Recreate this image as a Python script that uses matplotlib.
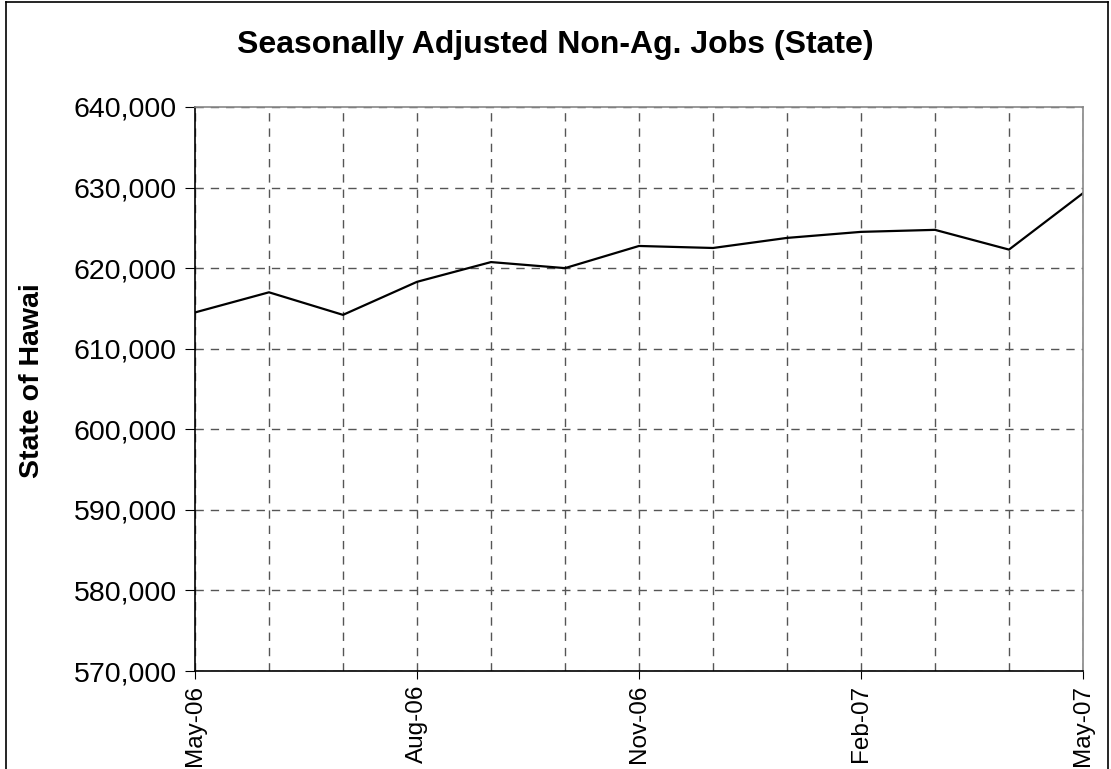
import matplotlib.pyplot as plt
from matplotlib.ticker import FuncFormatter, MultipleLocator
from matplotlib.lines import Line2D

plt.rcParams['font.family'] = ['Liberation Sans', 'DejaVu Sans']

# data
months = ['May-06', 'Jun-06', 'Jul-06', 'Aug-06', 'Sep-06', 'Oct-06', 'Nov-06',
          'Dec-06', 'Jan-07', 'Feb-07', 'Mar-07', 'Apr-07', 'May-07']
jobs = [614500, 617000, 614200, 618300, 620750, 620000, 622750,
        622500, 623750, 624500, 624750, 622300, 629300]

fig = plt.figure(figsize=(11.11, 7.69), dpi=100)
ax = fig.add_axes([0.1755, 0.1274, 0.7993, 0.7335])

x = list(range(len(months)))
ax.plot(x, jobs, color='black', lw=1.6)

ax.set_xlim(0, len(months) - 1)
ax.set_ylim(570000, 640000)
ax.yaxis.set_major_locator(MultipleLocator(10000))
ax.yaxis.set_major_formatter(FuncFormatter(lambda v, p: f"{int(v):,}"))

# labels every 3 months, grid every month
ax.set_xticks(x[::3])
ax.set_xticklabels(months[::3], rotation=90, fontsize=17.5)
ax.set_xticks(x, minor=True)
ax.tick_params(axis='x', which='minor', length=0)
ax.tick_params(axis='x', which='major', length=6, direction='out', pad=4)
ax.tick_params(axis='y', labelsize=20.5, length=7, pad=6)

ax.grid(True, which='both', axis='x', ls=(0, (6, 5)), color='#555555', lw=1)
ax.grid(True, which='major', axis='y', ls=(0, (6, 5)), color='#555555', lw=1)

for s in ['left', 'bottom']:
    ax.spines[s].set_color('black')
    ax.spines[s].set_linewidth(1.2)
for s in ['top', 'right']:
    ax.spines[s].set_color('#888888')
    ax.spines[s].set_linewidth(1.2)

ax.set_ylabel('State of Hawai', fontsize=20.5, fontweight='bold', va='center')
ax.yaxis.set_label_coords(-0.1836, 0.514)
fig.text(0.5, 0.941, 'Seasonally Adjusted Non-Ag. Jobs (State)',
         ha='center', va='center', fontsize=23, fontweight='bold')

# chart border
for xs, ys in [([0.005, 0.005], [0, 0.997]), ([0.005, 0.997], [0.997, 0.997]),
               ([0.997, 0.997], [0, 0.997])]:
    fig.add_artist(Line2D(xs, ys, color='black', lw=1.2, transform=fig.transFigure))

fig.savefig('out.png', dpi=100)
